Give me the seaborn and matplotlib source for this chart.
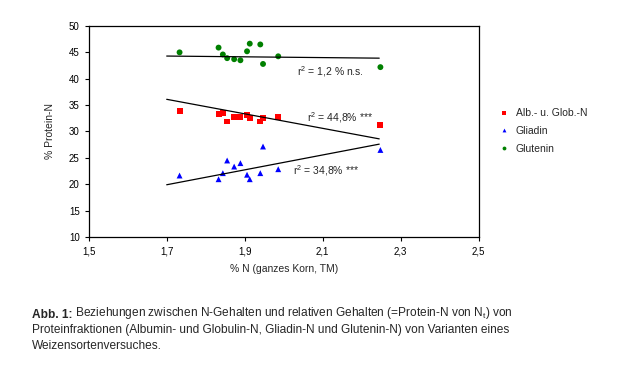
import matplotlib
matplotlib.use('Agg')
import matplotlib.pyplot as plt
import pandas as pd
import seaborn as sns

# N-Gehalt im ganzen Korn (% TM) der Varianten
n_korn = [1.733, 1.833, 1.844, 1.855, 1.873, 1.889, 1.906, 1.913, 1.940, 1.947, 1.986, 2.248]

# Anteil am Protein-N (%)
alb_glob = [33.8, 33.3, 33.5, 31.9, 32.8, 32.8, 33.1, 32.5, 31.9, 32.5, 32.8, 31.3]
gliadin = [21.65, 20.95, 22.1, 24.5, 23.35, 24.0, 21.8, 20.95, 22.1, 27.15, 22.85, 26.5]
glutenin = [45.0, 45.9, 44.6, 43.9, 43.7, 43.5, 45.2, 46.65, 46.5, 42.8, 44.25, 42.2]

fraktionen = ["Alb.- u. Glob.-N", "Gliadin", "Glutenin"]
farben = ["#ff0000", "#0000ff", "#008000"]
marker = ["s", "^", "o"]

trend_x = [1.70, 2.245]
trend_alb = [36.1, 28.6]
trend_gli = [19.9, 27.6]
trend_glu = [44.3, 43.9]

r2_texte = ["r$^2$ = 44,8% ***", "r$^2$ = 34,8% ***", "r$^2$ = 1,2 % n.s."]
r2_pos = [(2.059, 31.8), (2.025, 21.8), (2.034, 40.7)]

df = pd.DataFrame({
    "N": n_korn * 3,
    "Protein": alb_glob + gliadin + glutenin,
    "Fraktion": [f for f in fraktionen for _ in n_korn],
})

sns.set_style("ticks")
plt.rcParams['font.family'] = ['Liberation Sans', 'DejaVu Sans']
plt.rcParams['mathtext.default'] = 'regular'

fig = plt.figure(figsize=(6.19, 3.68), dpi=100)
ax = fig.add_axes([0.1433, 0.356, 0.630, 0.5734])

sns.scatterplot(data=df, x="N", y="Protein", hue="Fraktion", style="Fraktion",
                palette=dict(zip(fraktionen, farben)),
                markers=dict(zip(fraktionen, marker)),
                s=18, linewidth=0, ax=ax)

for werte in [trend_alb, trend_gli, trend_glu]:
    ax.plot(trend_x, werte, color="black", lw=0.9)

for txt, (x, y) in zip(r2_texte, r2_pos):
    ax.text(x, y, txt, fontsize=7.5, va="baseline", ha="left")

ax.set_xlim(1.5, 2.5)
ax.set_ylim(10, 50)
ax.set_xticks([1.5, 1.7, 1.9, 2.1, 2.3, 2.5])
ax.set_xticklabels(["1,5", "1,7", "1,9", "2,1", "2,3", "2,5"])
ax.set_yticks(range(10, 51, 5))
ax.tick_params(labelsize=7, length=3, width=0.8, colors="black")
for s in ax.spines.values():
    s.set_linewidth(0.9)
    s.set_color("black")
ax.set_xlabel("% N (ganzes Korn, TM)", fontsize=7.5, labelpad=6)
ax.set_ylabel("% Protein-N", fontsize=7.5, labelpad=10)

sns.move_legend(ax, "upper left", bbox_to_anchor=(1.015, 0.655), frameon=False,
                title=None, fontsize=7.5, handletextpad=0.1, labelspacing=0.75,
                markerscale=0.65)

# Bildunterschrift
t1 = fig.text(32 / 619, 1 - 318 / 368, "Abb. 1:", fontsize=8.6, fontweight="bold", va="baseline")
ax.annotate(" Beziehungen zwischen N-Gehalten und relativen Gehalten (=Protein-N von N$_t$) von",
            xy=(1, 0), xycoords=t1, fontsize=8.6, va="bottom", ha="left", annotation_clip=False)
fig.text(32 / 619, 1 - 333.5 / 368,
         "Proteinfraktionen (Albumin- und Globulin-N, Gliadin-N und Glutenin-N) von Varianten eines",
         fontsize=8.6, va="baseline")
fig.text(32 / 619, 1 - 349 / 368, "Weizensortenversuches.", fontsize=8.6, va="baseline")

fig.savefig("out.png", dpi=100, facecolor="white")
